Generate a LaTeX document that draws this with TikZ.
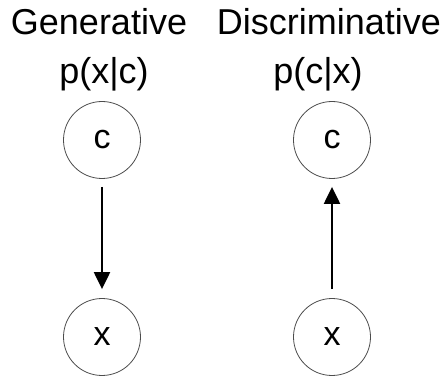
\documentclass[tikz,border=0pt]{standalone}
\usepackage{fontspec}
\setmainfont{Liberation Sans}
\usetikzlibrary{arrows.meta}
\begin{document}
\begin{tikzpicture}[x=1pt,y=-1pt,
  var/.style={circle,draw=black!70,line width=0.8pt,minimum size=77pt,inner sep=0pt,font=\fontsize{34}{34}\selectfont},
  ttl/.style={anchor=base,inner sep=0pt,font=\fontsize{36}{36}\selectfont},
  edge/.style={line width=2.2pt,-{Triangle[length=17pt,width=16pt]}}]
\useasboundingbox (0,0) rectangle (445,377);
\node[ttl] (gen) at (99,35) {Generative};
\node[ttl] (dis) at (329,35) {Discriminative};
\node[ttl] (pxc) at (104,84) {p(x|c)};
\node[ttl] (pcx) at (318,84) {p(c|x)};
\node[var] (c1) at (102,140) {c};
\node[var] (x1) at (102,337) {x};
\node[var] (c2) at (332,140) {c};
\node[var] (x2) at (332,337) {x};
\draw[edge,shorten <=8pt,shorten >=9pt] (c1) -- (x1);
\draw[edge,shorten <=9pt,shorten >=8pt] (x2) -- (c2);
\end{tikzpicture}
\end{document}
